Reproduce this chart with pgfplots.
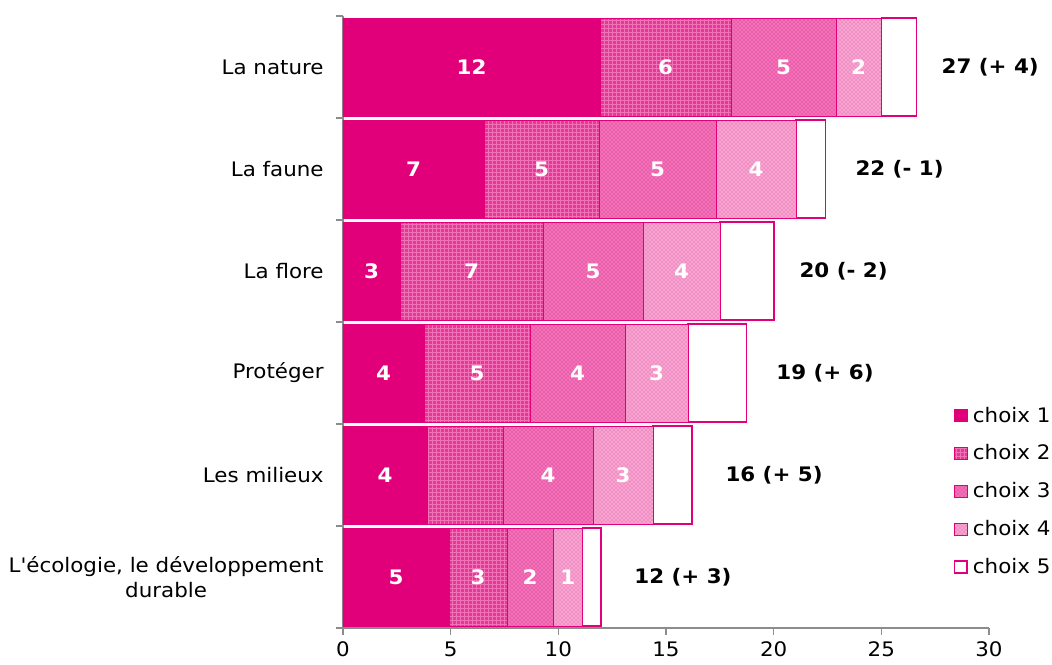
\documentclass[border=0pt]{standalone}
\usepackage{fontspec}
\setmainfont{DejaVu Sans}[Ligatures=TeXOff, FakeStretch=1.07]
\usepackage{pgfplots}
\pgfplotsset{compat=1.18}
\usepackage{pgfplotstable}
\usetikzlibrary{patterns}

\definecolor{mag}{HTML}{E2007A}
\definecolor{axgray}{HTML}{8C8C8C}
\newcommand\fsz{\fontsize{15pt}{18.5pt}\selectfont}

% segment lengths, label shown in each segment
\pgfplotstableread{
x y lab
11.94 5 12
6.55 4 7
2.65 3 3
3.76 2 4
3.90 1 4
4.92 0 5
}\choixA
\pgfplotstableread{
x y lab
6.08 5 6
5.34 4 5
6.64 3 7
4.93 2 5
3.53 1 {}
2.70 0 3
}\choixB
\pgfplotstableread{
x y lab
4.88 5 5
5.44 4 5
4.64 3 5
4.41 2 4
4.18 1 4
2.13 0 2
}\choixC
\pgfplotstableread{
x y lab
2.09 5 2
3.71 4 4
3.58 3 4
2.92 2 3
2.79 1 3
1.39 0 1
}\choixD
% last segment, total label and its gap (pt) from the bar end
\pgfplotstableread{
x y lab dx
1.63 5 {27 (+ 4)} 15.3
1.35 4 {22 (- 1)} 19
2.51 3 {20 (- 2)} 15.3
2.70 2 {19 (+ 6)} 19
1.81 1 {16 (+ 5)} 21.3
0.84 0 {12 (+ 3)} 21.3
}\choixE

\pgfplotsset{
  inbar/.style={
    nodes near coords, point meta=explicit symbolic,
    every node near coord/.append style={anchor=center, text=white,
      font=\fsz\bfseries},
  },
}

\begin{document}
\begin{tikzpicture}
\begin{axis}[
  scale only axis, width=484.5pt, height=459pt,
  xbar stacked, bar width=0.96,
  xmin=0, xmax=30, ymin=-0.5, ymax=5.5,
  axis x line*=bottom, axis y line*=left,
  axis line style={axgray, line width=0.9pt},
  every tick/.style={axgray, line width=0.9pt},
  tick align=outside, major tick length=5pt,
  xtick={0,5,...,30},
  ytick={-0.5,0.5,...,5.5}, yticklabels={{},{},{},{},{},{},{}},
  extra y ticks={0,1,2,3,4,5},
  extra y tick labels={{L'écologie, le développement\\durable},Les milieux,Protéger,La flore,La faune,La nature},
  extra y tick style={major tick length=0pt, yticklabel style={align=center}},
  tick label style={font=\fsz, text=black},
  xticklabel style={yshift=-2pt},
  yticklabel style={xshift=-11pt},
  /pgf/number format/assume math mode=true,
  area legend,
  legend image code/.code={\draw[#1] (0pt,-4.5pt) rectangle (9.5pt,4.5pt);},
  legend style={draw=none, fill=none, at={(rel axis cs:0.945,0.365)}, anchor=north west,
    font=\fsz, row sep=12.5pt, inner sep=0pt, nodes={inner sep=1.5pt}},
  legend cell align=left,
]
\addplot[fill=mag, draw=mag, line width=0.6pt, inbar] table[x=x, y=y, meta=lab] {\choixA};
\addlegendentry{\,choix 1}
\addplot[fill=mag!78!white, draw=mag, line width=0.6pt,
  postaction={pattern=grid, pattern color=white!45!mag}, inbar]
  table[x=x, y=y, meta=lab] {\choixB};
\addlegendentry{\,choix 2}
\addplot[fill=mag!55!white, draw=mag, line width=0.6pt,
  postaction={pattern=crosshatch dots, pattern color=mag!90!white}, inbar]
  table[x=x, y=y, meta=lab] {\choixC};
\addlegendentry{\,choix 3}
\addplot[fill=mag!35!white, draw=mag, line width=0.6pt,
  postaction={pattern=crosshatch dots, pattern color=mag!75!white}, inbar]
  table[x=x, y=y, meta=lab] {\choixD};
\addlegendentry{\,choix 4}
\addplot[fill=white, draw=mag, line width=0.9pt,
  nodes near coords, point meta=explicit symbolic,
  visualization depends on={\thisrow{x} \as \rawx},
  visualization depends on={\thisrow{dx} \as \gap},
  every node near coord/.append style={anchor=west, text=black, font=\fsz\bfseries,
    shift={(axis direction cs:\rawx/2,0)}, xshift=\gap pt}]
  table[x=x, y=y, meta=lab] {\choixE};
\addlegendentry{\,choix 5}
\coordinate (O) at (rel axis cs:0,0);
\end{axis}
\pgfresetboundingbox
\path[use as bounding box] (O) ++(-257.25pt,-27pt) rectangle ++(789pt,498pt);
\end{tikzpicture}
\end{document}
